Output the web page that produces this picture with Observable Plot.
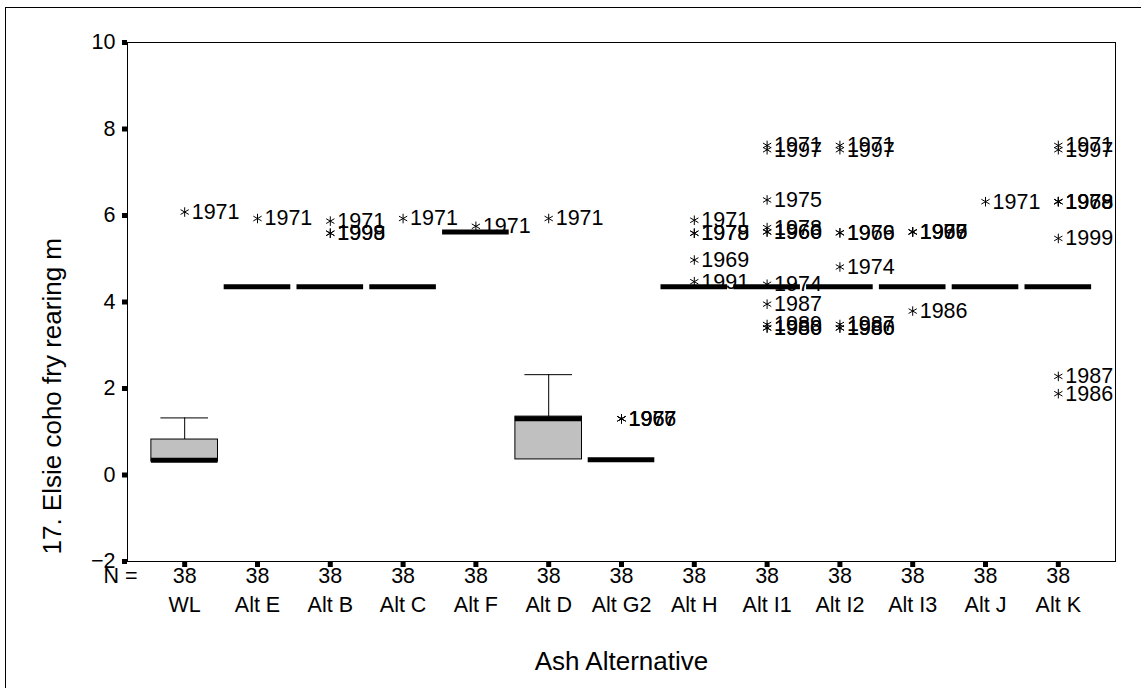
<!DOCTYPE html>
<html>
<head>
<meta charset="utf-8">
<script src="https://cdn.jsdelivr.net/npm/d3@7"></script>
<script src="https://cdn.jsdelivr.net/npm/@observablehq/plot@0.6"></script>
<style>
  html, body { margin: 0; padding: 0; background: #fff; overflow: hidden; }
  #wrap { position: relative; width: 1141px; height: 688px; }
  #outer { position: absolute; left: 5px; top: 7px; width: 1200px; height: 760px; border: 1px solid #000; box-sizing: border-box; pointer-events: none; }
  #chart { position: absolute; left: 0; top: 0; }
</style>
</head>
<body>
<div id="wrap"><div id="chart"></div><div id="outer"></div></div>
<script>
// Categories and counts
const categories = ["WL","Alt E","Alt B","Alt C","Alt F","Alt D","Alt G2","Alt H","Alt I1","Alt I2","Alt I3","Alt J","Alt K"];
const nCounts    = [38,38,38,38,38,38,38,38,38,38,38,38,38];

// Box statistics per category
const q1          = [0.31, 4.35, 4.35, 4.35, 5.62, 0.36, 0.35, 4.35, 4.35, 4.35, 4.35, 4.35, 4.35];
const median      = [0.34, 4.35, 4.35, 4.35, 5.62, 1.30, 0.35, 4.35, 4.35, 4.35, 4.35, 4.35, 4.35];
const q3          = [0.82, 4.35, 4.35, 4.35, 5.62, 1.35, 0.35, 4.35, 4.35, 4.35, 4.35, 4.35, 4.35];
const whiskerHigh = [1.32, 4.35, 4.35, 4.35, 5.62, 2.32, 0.35, 4.35, 4.35, 4.35, 4.35, 4.35, 4.35];

// Extreme values (asterisks) with year labels
const outlierCat  = ["WL","Alt E","Alt B","Alt B","Alt B","Alt C","Alt F","Alt D",
  "Alt G2","Alt G2","Alt G2",
  "Alt H","Alt H","Alt H","Alt H","Alt H",
  "Alt I1","Alt I1","Alt I1","Alt I1","Alt I1","Alt I1","Alt I1","Alt I1","Alt I1","Alt I1","Alt I1",
  "Alt I2","Alt I2","Alt I2","Alt I2","Alt I2","Alt I2","Alt I2","Alt I2",
  "Alt I3","Alt I3","Alt I3","Alt I3",
  "Alt J",
  "Alt K","Alt K","Alt K","Alt K","Alt K","Alt K","Alt K","Alt K"];
const outlierVal  = [6.08, 5.93, 5.87, 5.59, 5.59, 5.93, 5.75, 5.93,
  1.30, 1.30, 1.30,
  5.89, 5.59, 5.59, 4.97, 4.47,
  7.62, 7.52, 6.36, 5.72, 5.62, 5.62, 4.41, 3.95, 3.48, 3.40, 3.40,
  7.62, 7.52, 5.60, 5.60, 4.81, 3.48, 3.40, 3.40,
  5.62, 5.62, 5.62, 3.79,
  6.32,
  7.62, 7.52, 6.32, 6.32, 6.32, 5.47, 2.28, 1.88];
const outlierYear = [1971, 1971, 1971, 1998, 1999, 1971, 1971, 1971,
  1966, 1977, 1967,
  1971, 1979, 1978, 1969, 1991,
  1971, 1997, 1975, 1978, 1966, 1960, 1974, 1987, 1989, 1986, 1980,
  1971, 1997, 1979, 1966, 1974, 1987, 1986, 1980,
  1966, 1977, 1999, 1986,
  1971,
  1971, 1997, 1979, 1978, 1968, 1999, 1987, 1986];

const yTicks = [-2, 0, 2, 4, 6, 8, 10];
const yTitle = "17. Elsie coho fry rearing m";
const xTitle = "Ash Alternative";

const boxes = categories.map((c, i) => ({cat: c, q1: q1[i], med: median[i], q3: q3[i], hi: whiskerHigh[i], n: nCounts[i]}));
const outliers = outlierYear.map((y, i) => ({cat: outlierCat[i], v: outlierVal[i], year: String(y)}));
const whiskers = boxes.filter(d => d.hi > d.q3);
const realBoxes = boxes.filter(d => d.q3 > d.q1);

const chart = Plot.plot({
  width: 1141,
  height: 688,
  marginLeft: 127,
  marginRight: 26,
  marginTop: 42,
  marginBottom: 127,
  style: {fontFamily: "'Liberation Sans', Arial, Helvetica, sans-serif", fontSize: "21.5px", background: "transparent", color: "black"},
  x: {type: "band", domain: categories, paddingInner: 0.085, paddingOuter: 0.328, align: 0.5, round: false, axis: null},
  y: {domain: [-2, 10], axis: null},
  marks: [
    Plot.ruleX(whiskers, {x: "cat", y1: "q3", y2: "hi", stroke: "black", strokeWidth: 1}),
    Plot.tickY(whiskers, {x: "cat", y: "hi", insetLeft: 9.5, insetRight: 9.5, stroke: "black", strokeWidth: 1}),
    Plot.barY(realBoxes, {x: "cat", y1: "q1", y2: "q3", fill: "#c0c0c0", stroke: "black", strokeWidth: 1}),
    Plot.tickY(boxes, {x: "cat", y: "med", stroke: "black", strokeWidth: 5}),
    Plot.dot(outliers, {x: "cat", y: "v", symbol: "asterisk", r: 4.5, stroke: "black", strokeWidth: 1}),
    Plot.text(outliers, {x: "cat", y: "v", text: "year", textAnchor: "start", dx: 7, fill: "black"}),
    Plot.frame({stroke: "black", strokeWidth: 1}),
    Plot.axisY({ticks: yTicks, tickSize: 5, strokeWidth: 5, tickPadding: 7, label: null, fill: "black"}),
    Plot.axisX({tickSize: 6, strokeWidth: 5, tickFormat: () => "", label: null}),
    Plot.text(boxes, {x: "cat", text: d => String(d.n), frameAnchor: "bottom", dy: 21, fill: "black"}),
    Plot.text(boxes, {x: "cat", text: "cat", frameAnchor: "bottom", dy: 50, fill: "black"}),
    Plot.text(["N ="], {text: d => d, frameAnchor: "bottom-left", textAnchor: "end", dx: 10, dy: 21, fill: "black"}),
    Plot.text([xTitle], {text: d => d, frameAnchor: "bottom", dy: 108, fontSize: 26, fill: "black"}),
    Plot.text([yTitle], {text: d => d, frameAnchor: "bottom-left", textAnchor: "start", rotate: -90, dx: -67, dy: -7, fontSize: 26, fill: "black"})
  ]
});
document.getElementById("chart").appendChild(chart);
</script>
</body>
</html>
